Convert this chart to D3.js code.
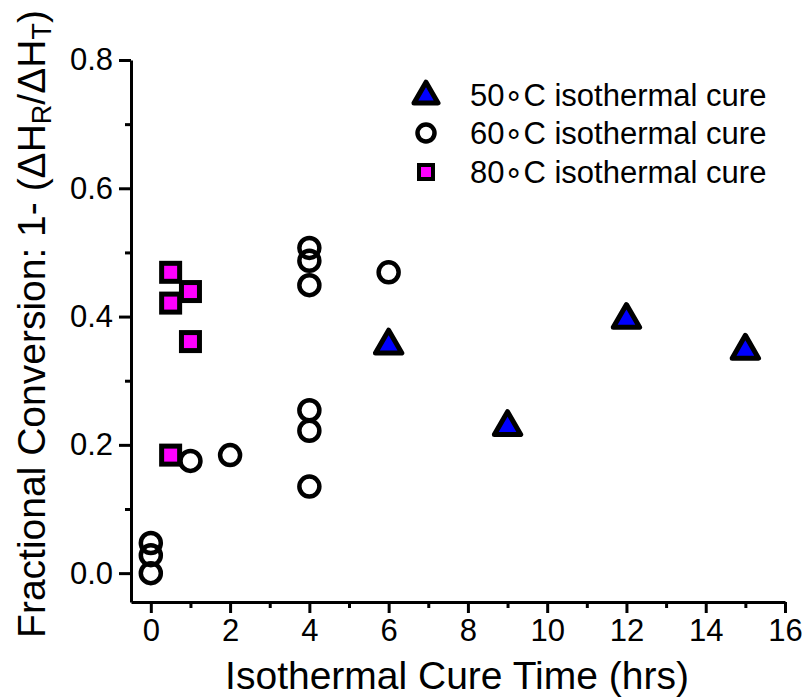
<!DOCTYPE html>
<html>
<head>
<meta charset="utf-8">
<script src="https://cdn.jsdelivr.net/npm/d3@7"></script>
<style>
  body { margin: 0; background: #fff; }
  svg text { font-family: "Liberation Sans", Arial, sans-serif; fill: #000; }
</style>
</head>
<body>
<div id="chart"></div>
<script>
// data
var xTicks = [0, 2, 4, 6, 8, 10, 12, 14, 16];
var yTicks = [0.0, 0.2, 0.4, 0.6, 0.8];
var xMinor = [1, 3, 5, 7, 9, 11, 13, 15];
var yMinor = [0.1, 0.3, 0.5, 0.7];

var cure50x = [6, 9, 12, 15];
var cure50y = [0.355, 0.228, 0.395, 0.347];

var cure60x = [0, 0, 0, 1, 2, 4, 4, 4, 4, 4, 4, 6];
var cure60y = [0.047, 0.028, 0.0, 0.175, 0.184, 0.507, 0.487, 0.449, 0.254, 0.222, 0.135, 0.469];

var cure80x = [0.5, 0.5, 1, 1, 0.5];
var cure80y = [0.469, 0.421, 0.439, 0.361, 0.184];

var legendLabels = ["50\u2218C isothermal cure", "60\u2218C isothermal cure", "80\u2218C isothermal cure"];

var width = 806, height = 698;

var x = d3.scaleLinear().domain([-0.5, 16]).range([131, 785]);
var y = d3.scaleLinear().domain([-0.045, 0.8]).range([602, 60]);

var svg = d3.select("#chart").append("svg")
    .attr("width", width)
    .attr("height", height);

// minor ticks
svg.append("g")
    .attr("transform", "translate(0,602)")
    .call(d3.axisBottom(x).tickValues(xMinor).tickSize(6).tickFormat(""))
    .call(function(g) { g.select(".domain").remove(); })
    .selectAll("line").attr("stroke-width", 3);
svg.append("g")
    .attr("transform", "translate(131,0)")
    .call(d3.axisLeft(y).tickValues(yMinor).tickSize(6).tickFormat(""))
    .call(function(g) { g.select(".domain").remove(); })
    .selectAll("line").attr("stroke-width", 3);

// x axis
var gx = svg.append("g")
    .attr("transform", "translate(0,602)")
    .call(d3.axisBottom(x).tickValues(xTicks).tickSize(11).tickSizeOuter(0).tickPadding(6));
gx.select(".domain").attr("stroke-width", 3);
gx.selectAll("line").attr("stroke-width", 3);
gx.selectAll("text").style("font-size", "31px");

// y axis
var gy = svg.append("g")
    .attr("transform", "translate(131,0)")
    .call(d3.axisLeft(y).tickValues(yTicks).tickSize(12).tickSizeOuter(0).tickPadding(6)
      .tickFormat(d3.format(".1f")));
gy.select(".domain").attr("stroke-width", 3);
gy.selectAll("line").attr("stroke-width", 3);
gy.selectAll("text").style("font-size", "31px");

// axis titles
svg.append("text")
    .attr("x", 457)
    .attr("y", 689)
    .attr("text-anchor", "middle")
    .style("font-size", "39px")
    .text("Isothermal Cure Time (hrs)");

var yl = svg.append("text")
    .attr("transform", "translate(45,324) rotate(-90)")
    .attr("text-anchor", "middle")
    .style("font-size", "39px");
yl.append("tspan").text("Fractional Conversion: 1- (\u0394H");
yl.append("tspan").attr("baseline-shift", "-22%").style("font-size", "27px").text("R");
yl.append("tspan").text("/\u0394H");
yl.append("tspan").attr("baseline-shift", "-22%").style("font-size", "27px").text("T");
yl.append("tspan").text(")");

// markers
var tri = d3.symbol().type(d3.symbolTriangle).size(300);

svg.append("g").selectAll("path")
    .data(d3.range(cure50x.length))
    .join("path")
    .attr("transform", function(i) { return "translate(" + x(cure50x[i]) + "," + y(cure50y[i]) + ")"; })
    .attr("d", tri)
    .attr("fill", "#0000ff")
    .attr("stroke", "#000")
    .attr("stroke-width", 5)
    .attr("stroke-linejoin", "round");

svg.append("g").selectAll("circle")
    .data(d3.range(cure60x.length))
    .join("circle")
    .attr("cx", function(i) { return x(cure60x[i]); })
    .attr("cy", function(i) { return y(cure60y[i]); })
    .attr("r", 10)
    .attr("fill", "none")
    .attr("stroke", "#000")
    .attr("stroke-width", 4.5);

svg.append("g").selectAll("rect")
    .data(d3.range(cure80x.length))
    .join("rect")
    .attr("x", function(i) { return x(cure80x[i]) - 9; })
    .attr("y", function(i) { return y(cure80y[i]) - 9; })
    .attr("width", 18)
    .attr("height", 18)
    .attr("fill", "#ff00ff")
    .attr("stroke", "#000")
    .attr("stroke-width", 5);

// legend
var lg = svg.append("g");
var rows = [95, 133, 172];
lg.append("path")
    .attr("transform", "translate(426," + (rows[0] + 1) + ")")
    .attr("d", d3.symbol().type(d3.symbolTriangle).size(250))
    .attr("fill", "#0000ff").attr("stroke", "#000")
    .attr("stroke-width", 5).attr("stroke-linejoin", "round");
lg.append("circle")
    .attr("cx", 426).attr("cy", rows[1]).attr("r", 8.5)
    .attr("fill", "none").attr("stroke", "#000").attr("stroke-width", 4.5);
lg.append("rect")
    .attr("x", 419).attr("y", rows[2] - 7).attr("width", 14).attr("height", 14)
    .attr("fill", "#ff00ff").attr("stroke", "#000").attr("stroke-width", 4);
lg.selectAll("text")
    .data(legendLabels)
    .join("text")
    .attr("x", 470)
    .attr("y", function(d, i) { return rows[i] + 11; })
    .style("font-size", "31px")
    .text(function(d) { return d; });
</script>
</body>
</html>
